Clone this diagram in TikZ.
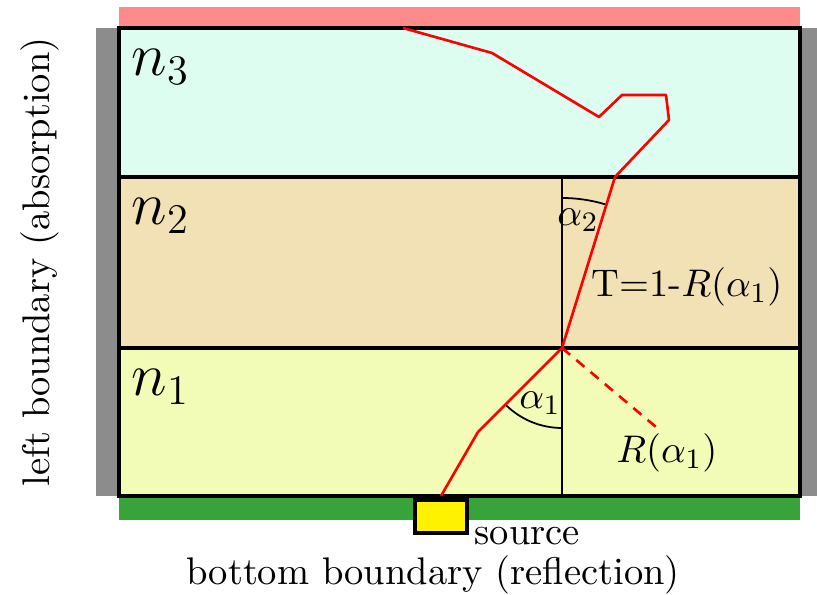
\documentclass[11pt,tikz,border=0pt]{standalone}
\usetikzlibrary{positioning}
\definecolor{layerone}{RGB}{242,252,182}
\definecolor{layertwo}{RGB}{243,225,182}
\definecolor{layerthree}{RGB}{220,253,239}
\definecolor{absorbgray}{RGB}{140,140,140}
\definecolor{toppink}{RGB}{255,138,138}
\definecolor{reflgreen}{RGB}{56,163,56}
\begin{document}
\begin{tikzpicture}[x=0.01cm,y=0.01cm,
  ray/.style={red,line width=0.75pt,line join=round},
  layerlbl/.style={anchor=north west,inner sep=0pt,font=\LARGE},
  normline/.style={black,line width=0.5pt}]
\useasboundingbox (0,0) rectangle (817,595);
\fill[absorbgray](96,99)rectangle(119,567);
\fill[absorbgray](800,99)rectangle(817,567);
\fill[toppink](119,568)rectangle(800,588);
\fill[reflgreen](119,75)rectangle(800,98);
\foreach \lo/\hi/\col/\nm in {99/247/layerone/1,247/418/layertwo/2,418/567/layerthree/3}
  {\fill[\col](119,\lo)rectangle(800,\hi);
   \node[layerlbl](n\nm) at (131,\hi-21){$n_{\nm}$};}
\draw[line width=0.9pt](119,99)rectangle(800,567);
\draw[line width=0.9pt](119,247)--(800,247) (119,418)--(800,418);
\coordinate (hit) at (562,247);
\coordinate (emit) at (441,99);
\coordinate (exit) at (403,567);
\coordinate (refl) at (656,168);
\coordinate (nbot) at (562,99);
\coordinate (ntop) at (562,418);
\draw[normline](nbot)--(ntop);
\draw[normline]([shift={(225:80)}]hit) arc[start angle=225,end angle=270,radius=80];
\draw[normline]([shift={(90:150)}]hit) arc[start angle=90,end angle=73,radius=150];
\draw[ray](emit)--(478,163)--(hit)--(615,418)--(669,475)--(666,500)--(622,500)--(599,478)--(492,542)--(exit);
\draw[ray,dash pattern=on 3pt off 2.3pt](hit)--(refl);
\node (alpha1) at (540,192){$\alpha_1$};
\node (alpha2) at (578,375){$\alpha_2$};
\node (trans) at (687,308){T=1-$R(\alpha_1)$};
\node (reflect) at (667,142){$R(\alpha_1)$};
% source and boundaries
\node[draw,fill=yellow,line width=1.2pt,minimum width=0.52cm,minimum height=0.335cm,inner sep=0pt,outer sep=0pt,anchor=south west](src) at (415,62){};
\node[inner sep=0pt,right=0.07cm of src.south east,yshift=-0.03cm](srclbl){source};
\node (bottomlbl) at (433,20){bottom boundary (reflection)};
\node[rotate=90] (leftlbl) at (40,333){left boundary (absorption)};
\end{tikzpicture}
\end{document}
